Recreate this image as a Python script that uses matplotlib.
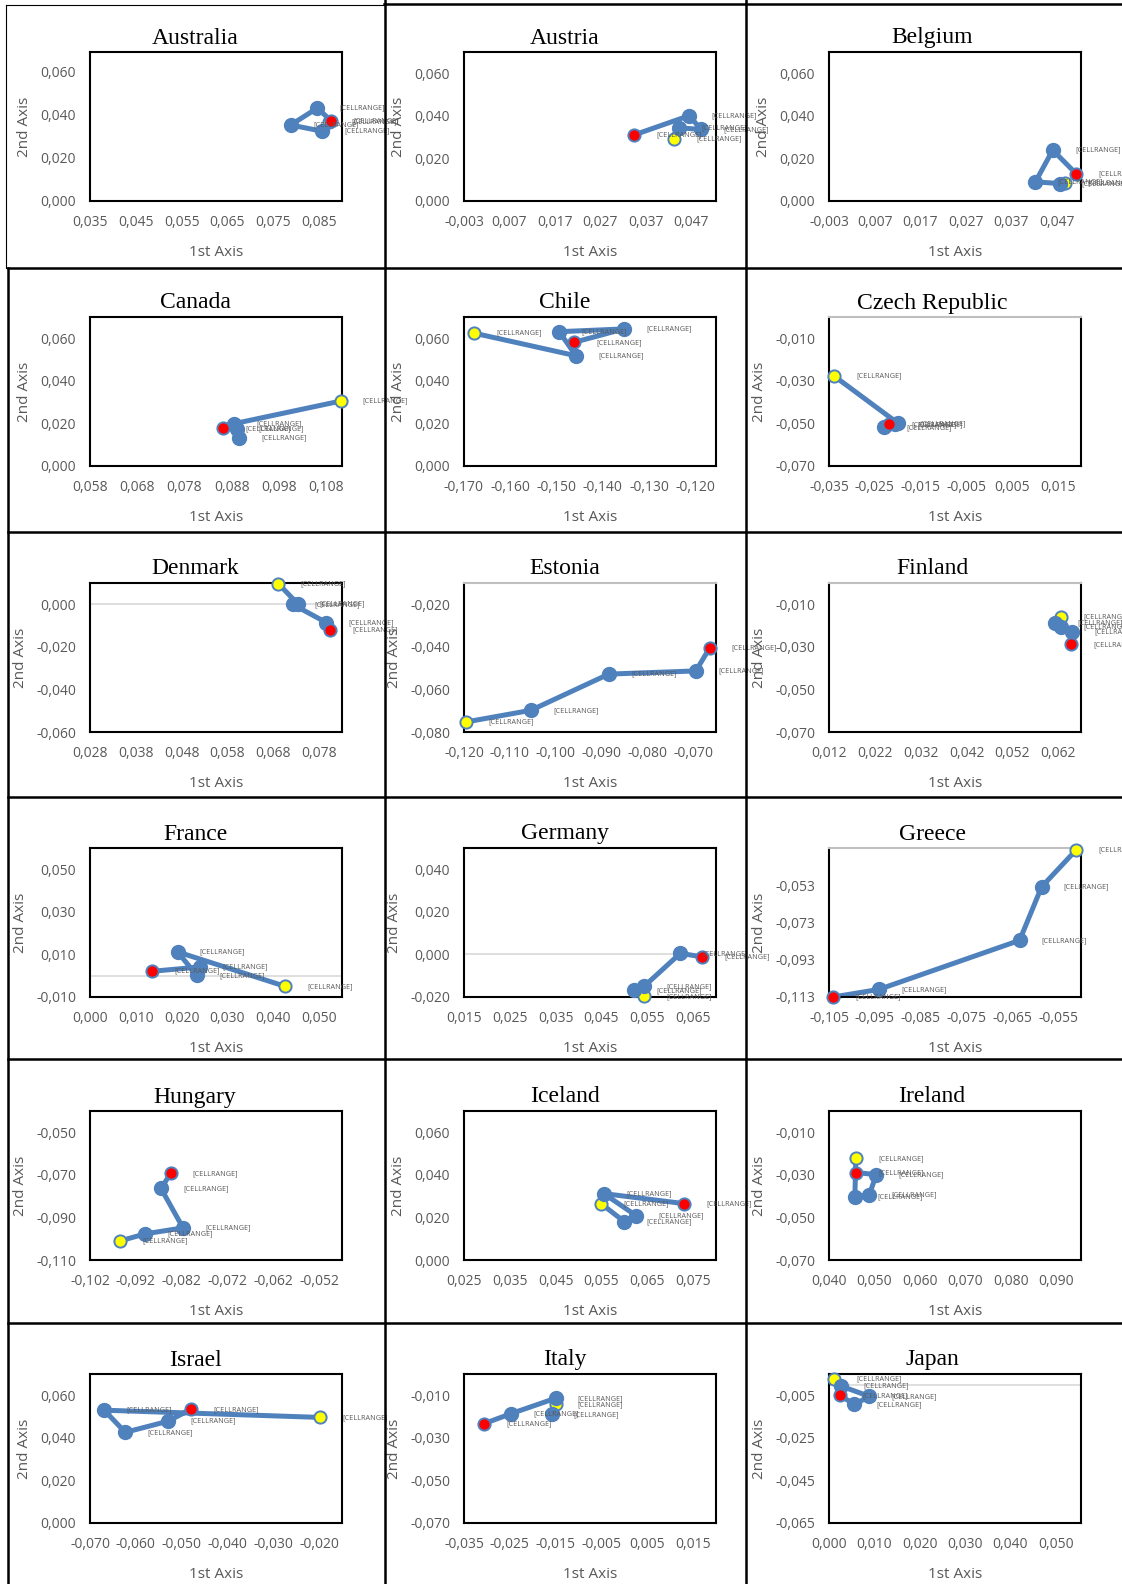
import matplotlib
matplotlib.use('Agg')
import matplotlib.pyplot as plt
from matplotlib.lines import Line2D

W, H = 1122, 1584

countries = ['Australia', 'Austria', 'Belgium',
             'Canada', 'Chile', 'Czech Republic',
             'Denmark', 'Estonia', 'Finland',
             'France', 'Germany', 'Greece',
             'Hungary', 'Iceland', 'Ireland',
             'Israel', 'Italy', 'Japan']

# coordinates on the two axes, first point = start (yellow), last = end (red)
aus_x = [0.0872, 0.0857, 0.0788, 0.0846, 0.0876]
aus_y = [0.0365, 0.0323, 0.0352, 0.0430, 0.0372]
aut_x = [0.0432, 0.0444, 0.0492, 0.0466, 0.0344]
aut_y = [0.0291, 0.0344, 0.0336, 0.0401, 0.0310]
bel_x = [0.0488, 0.0476, 0.0423, 0.0461, 0.0512]
bel_y = [0.0086, 0.0082, 0.0090, 0.0239, 0.0129]
can_x = [0.1110, 0.0885, 0.0895, 0.0890, 0.0862]
can_y = [0.0305, 0.0199, 0.0133, 0.0175, 0.0177]
chl_x = [-0.1678, -0.1458, -0.1494, -0.1354, -0.1462]
chl_y = [0.0624, 0.0518, 0.0631, 0.0644, 0.0581]
cze_x = [-0.0339, -0.0199, -0.0205, -0.0230, -0.0219]
cze_y = [-0.0277, -0.0500, -0.0505, -0.0519, -0.0504]
dnk_x = [0.0691, 0.0733, 0.0722, 0.0796, 0.0804]
dnk_y = [0.0097, 0.0003, 0.0000, -0.0086, -0.0122]
est_x = [-0.1196, -0.1054, -0.0884, -0.0694, -0.0664]
est_y = [-0.0753, -0.0698, -0.0528, -0.0513, -0.0406]
fin_x = [0.0626, 0.0613, 0.0627, 0.0651, 0.0648]
fin_y = [-0.0160, -0.0188, -0.0207, -0.0230, -0.0288]
fra_x = [0.0426, 0.0191, 0.0233, 0.0240, 0.0136]
fra_y = [-0.0050, 0.0112, 0.0002, 0.0041, 0.0021]
deu_x = [0.0543, 0.0521, 0.0543, 0.0622, 0.0669]
deu_y = [-0.0197, -0.0169, -0.0150, 0.0005, -0.0011]
grc_x = [-0.0510, -0.0586, -0.0634, -0.0941, -0.1041]
grc_y = [-0.0334, -0.0535, -0.0824, -0.1089, -0.1130]
hun_x = [-0.0954, -0.0899, -0.0817, -0.0865, -0.0844]
hun_y = [-0.1010, -0.0977, -0.0949, -0.0764, -0.0693]
isl_x = [0.0549, 0.0600, 0.0626, 0.0555, 0.0730]
isl_y = [0.0265, 0.0180, 0.0208, 0.0312, 0.0265]
irl_x = [0.0459, 0.0457, 0.0489, 0.0504, 0.0459]
irl_y = [-0.0223, -0.0403, -0.0393, -0.0299, -0.0289]
isr_x = [-0.0198, -0.0669, -0.0623, -0.0530, -0.0480]
isr_y = [0.0496, 0.0530, 0.0426, 0.0478, 0.0534]
ita_x = [-0.0150, -0.0159, -0.0150, -0.0247, -0.0306]
ita_y = [-0.0143, -0.0190, -0.0114, -0.0186, -0.0233]
jpn_x = [0.0011, 0.0027, 0.0089, 0.0056, 0.0024]
jpn_y = [0.0026, -0.0007, -0.0055, -0.0093, -0.0050]

xs = [aus_x, aut_x, bel_x, can_x, chl_x, cze_x, dnk_x, est_x, fin_x,
      fra_x, deu_x, grc_x, hun_x, isl_x, irl_x, isr_x, ita_x, jpn_x]
ys = [aus_y, aut_y, bel_y, can_y, chl_y, cze_y, dnk_y, est_y, fin_y,
      fra_y, deu_y, grc_y, hun_y, isl_y, irl_y, isr_y, ita_y, jpn_y]

# axis ranges (min, max); ticks start at the min, 0.01 apart on x and 0.02 on y
x_lims = [(0.035, 0.090), (-0.003, 0.0525), (-0.003, 0.0523),
          (0.058, 0.1113), (-0.170, -0.1155), (-0.035, 0.020),
          (0.028, 0.083), (-0.120, -0.065), (0.012, 0.067),
          (0.000, 0.055), (0.015, 0.070), (-0.105, -0.050),
          (-0.102, -0.047), (0.025, 0.080), (0.040, 0.0955),
          (-0.070, -0.015), (-0.035, 0.020), (0.000, 0.0556)]
y_lims = [(0.000, 0.069), (0.000, 0.070), (0.000, 0.070),
          (0.000, 0.070), (0.000, 0.070), (-0.070, 0.000),
          (-0.060, 0.010), (-0.080, -0.010), (-0.070, 0.000),
          (-0.010, 0.060), (-0.020, 0.050), (-0.113, -0.0325),
          (-0.110, -0.040), (0.000, 0.070), (-0.070, 0.000),
          (0.000, 0.070), (-0.070, 0.000), (-0.065, 0.005)]

point_label = '[CELLRANGE]'

BLUE = '#4F81BD'
GREY = '#595959'

fig = plt.figure(figsize=(W / 100, H / 100), dpi=100)

col_left = [90, 464, 829]
col_title = [195, 565, 932]
row_top = [52, 317, 583, 848, 1111, 1374]
ax_w, ax_h = 252, 149
grey_top = {'Czech Republic', 'Estonia', 'Finland', 'Greece'}


def fmt(v):
    v = round(v, 3) + 0.0
    return f'{v:.3f}'.replace('.', ',')


for i, name in enumerate(countries):
    r, c = divmod(i, 3)
    left, top = col_left[c], row_top[r]
    ax = fig.add_axes([left / W, 1 - (top + ax_h) / H, ax_w / W, ax_h / H])
    x, y = xs[i], ys[i]
    x0, x1 = x_lims[i]
    y0, y1 = y_lims[i]

    if y0 < 0 < y1:
        ax.axhline(0, color='#D9D9D9', lw=1.2, zorder=1)

    ax.plot(x, y, color=BLUE, lw=3.6, solid_capstyle='round', zorder=2, clip_on=False)
    n = len(x)
    for k in range(n):
        if k == 0:
            ax.plot(x[k], y[k], 'o', ms=8.8, mfc='#FFFF00', mec=BLUE, mew=1.4,
                    zorder=3 + k, clip_on=False)
        elif k == n - 1:
            ax.plot(x[k], y[k], 'o', ms=8.8, mfc='#FF0000', mec=BLUE, mew=1.4,
                    zorder=3 + k, clip_on=False)
        else:
            ax.plot(x[k], y[k], 'o', ms=10, mfc=BLUE, mec=BLUE, zorder=3 + k, clip_on=False)
        ax.annotate(point_label, (x[k], y[k]), xytext=(16, 0), textcoords='offset points',
                    ha='left', va='center', fontsize=5.2, color=GREY,
                    family='Open Sans', annotation_clip=False, zorder=10)

    ax.set_xlim(x0, x1)
    ax.set_ylim(y0, y1)
    xt = [x0 + 0.01 * j for j in range(6)]
    yt = [y0 + 0.02 * j for j in range(4)]
    ax.set_xticks(xt)
    ax.set_yticks(yt)
    ax.set_xticklabels([fmt(v) for v in xt])
    ax.set_yticklabels([fmt(v) for v in yt])
    ax.tick_params(length=0, labelsize=10, labelcolor=GREY, pad=10)
    for lab in ax.get_xticklabels() + ax.get_yticklabels():
        lab.set_family('Open Sans')
    for side, sp in ax.spines.items():
        sp.set_linewidth(1.5)
        sp.set_color('black')
    if name in grey_top:
        ax.spines['top'].set_color('#BFBFBF')

    ax.set_xlabel('1st Axis', fontsize=11, color=GREY, family='Open Sans', labelpad=11)
    ax.set_ylabel('2nd Axis', fontsize=11, color=GREY, family='Open Sans', labelpad=6)

    fig.text(col_title[c] / W, 1 - (top - 14) / H, name, ha='center', va='center',
             fontsize=17, family='Liberation Serif', color='black')


def hline(y, xa, xb, lw=1.8):
    fig.add_artist(Line2D([xa / W, xb / W], [1 - y / H, 1 - y / H],
                          transform=fig.transFigure, color='black', lw=lw))


def vline(x, ya, yb, lw=1.8):
    fig.add_artist(Line2D([x / W, x / W], [1 - ya / H, 1 - yb / H],
                          transform=fig.transFigure, color='black', lw=lw))


# table grid around the charts
hline(4, 384, W)
hline(5, 6, 384, lw=0.8)
vline(6, 5, 268, lw=0.8)
for yy in [268, 532, 797, 1059, 1323]:
    hline(yy, 8, W)
vline(8, 268, H)
vline(385, 0, H)
vline(746, 0, H)

fig.savefig('out.png', dpi=100)
